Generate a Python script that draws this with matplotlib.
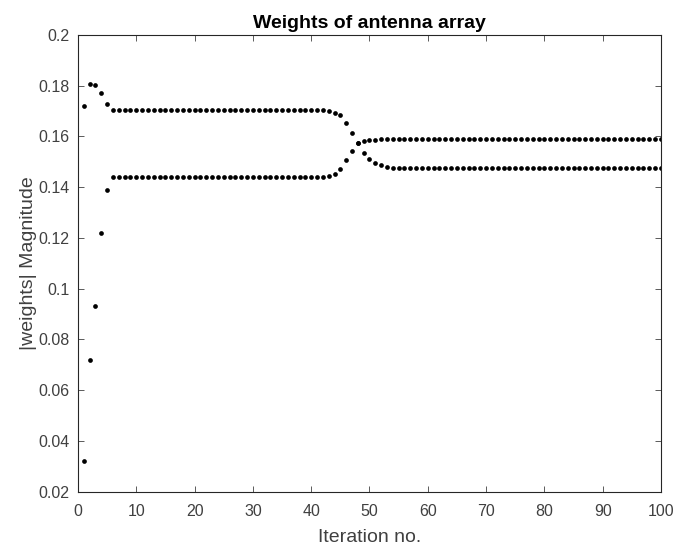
"""
Weights of antenna array -- magnitude of the two weights per iteration.
Writes out.png
"""
import numpy as np
import matplotlib
matplotlib.use("Agg")
import matplotlib.pyplot as plt

matplotlib.rcParams.update({
    'font.family': ['Liberation Sans', 'DejaVu Sans'],
    'xtick.direction': 'in', 'ytick.direction': 'in',
    'xtick.top': True, 'ytick.right': True,
})

GREY = '#404040'

iterations = np.arange(1, 101)

# weight 1: starts high, overshoots, settles, then drops after iteration ~45
w1_start = [0.172, 0.1808, 0.1803, 0.1771, 0.1728]
w1_plateau1 = 0.1705          # iterations 6..42
w1_transition = [0.1702, 0.1694, 0.1685, 0.1655, 0.1615, 0.1573,
                 0.1533, 0.1510, 0.1496, 0.1487, 0.1480, 0.1476]  # 43..54
w1_plateau2 = 0.1474          # iterations 55..100

# weight 2: rises from ~0.03, settles, then climbs after iteration ~45
w2_start = [0.032, 0.072, 0.0933, 0.1219, 0.1391]
w2_plateau1 = 0.1442
w2_transition = [0.1444, 0.1451, 0.1470, 0.1507, 0.1544, 0.1573,
                 0.1583, 0.1586, 0.1588, 0.1589, 0.1589, 0.1589]
w2_plateau2 = 0.1589

n_flat1 = 42 - 5
n_flat2 = 100 - 54

w1 = np.array(w1_start + [w1_plateau1] * n_flat1 + w1_transition + [w1_plateau2] * n_flat2)
w2 = np.array(w2_start + [w2_plateau1] * n_flat1 + w2_transition + [w2_plateau2] * n_flat2)

fig = plt.figure(figsize=(6.8, 5.49), dpi=100)
ax = fig.add_axes([0.1147, 0.1045, 0.972 - 0.1147, 0.9362 - 0.1045])

for w in (w1, w2):
    ax.plot(iterations, w, linestyle='none', marker='o', markersize=3.4,
            color='black', markeredgewidth=0)

ax.set_xlim(0, 100)
ax.set_ylim(0.02, 0.2)
ax.set_xticks(np.arange(0, 101, 10))
ax.set_yticks(np.arange(0.02, 0.201, 0.02))
ax.set_yticklabels(["0.02", "0.04", "0.06", "0.08", "0.1", "0.12",
                    "0.14", "0.16", "0.18", "0.2"])
ax.tick_params(labelsize=11.5, length=4, width=0.6, colors=GREY,
               labelcolor=GREY)
ax.tick_params(axis='x', pad=9)
ax.tick_params(axis='y', pad=6)
for s in ax.spines.values():
    s.set_linewidth(0.8)
    s.set_color('#262626')

ax.set_xlabel("Iteration no.", fontsize=14, color=GREY, labelpad=7)
ax.set_ylabel("|weights| Magnitude", fontsize=14, color=GREY, labelpad=1)
ax.set_title("Weights of antenna array", fontsize=14, fontweight='bold',
             pad=5)

fig.savefig("out.png", dpi=100)
plt.close(fig)
